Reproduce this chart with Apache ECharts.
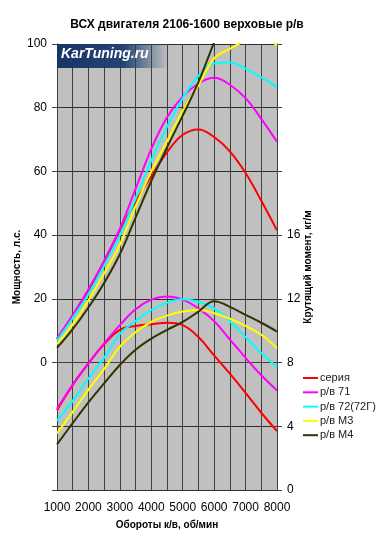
<!DOCTYPE html>
<html>
<head>
<meta charset="utf-8">
<script src="https://cdn.jsdelivr.net/npm/echarts@6/dist/echarts.min.js"></script>
<style>
html,body{margin:0;padding:0;background:#fff;}
#chart{width:380px;height:552px;}
</style>
</head>
<body>
<div id="chart"></div>
<script>
// ---- data ----
const rpm = [1000,1500,2000,2500,3000,3500,4000,4500,5000,5500,6000,6500,7000,7500,8000];
const seriesNames = ['серия','р/в 71','р/в 72(72Г)','р/в М3','р/в М4'];
// power, hp (left axis)
const powerSeria = [7.3,14.5,22.5,31.5,41.5,50.5,58.5,66,71.5,73.2,70.8,66.3,59.5,50.8,41.5];
const powerRv71  = [7.5,15,23,32,42,54.5,67,77,83.5,87.6,89.4,87.2,83,76.5,69.3];
const powerRv72  = [6.9,14,21.5,30.5,40,51.5,63.5,74,83,90,93.9,94.2,92.3,89.5,86.4];
const powerRvM3  = [5.9,12,19.5,28,37,49,60,69.5,79,87,95.5,98.5,101,102,99.5];
const powerRvM4  = [4.6,10.5,17.3,25,34,45.5,57,67.5,77.5,88,100.5,112,120,126,130];
// torque, kgm (right axis)
const torqueSeria = [5.0,6.6,7.95,9.15,10.05,10.3,10.4,10.5,10.35,9.6,8.45,7.3,6.1,4.85,3.7];
const torqueRv71  = [5.1,6.6,7.95,9.2,10.35,11.35,11.95,12.15,11.95,11.4,10.6,9.45,8.3,7.2,6.25];
const torqueRv72  = [4.35,5.6,7.0,8.3,9.8,10.6,11.3,11.75,11.97,11.8,11.4,10.6,9.6,8.6,7.73];
const torqueRvM3  = [3.55,4.9,6.3,7.6,9.0,9.9,10.55,10.95,11.2,11.3,11.1,10.75,10.3,9.75,8.9];
const torqueRvM4  = [2.87,4.2,5.5,6.7,7.85,8.8,9.5,10.05,10.55,11.2,11.85,11.5,11.0,10.5,9.95];

const colors = ['#ff0000','#ff00ff','#00ffff','#ffff00','#333300'];
const powerSets = [powerSeria,powerRv71,powerRv72,powerRvM3,powerRvM4];
const torqueSets = [torqueSeria,torqueRv71,torqueRv72,torqueRvM3,torqueRvM4];

const FONT = '"Liberation Sans", Arial, sans-serif';
const pair = (xs, ys) => xs.map((x, i) => [x, ys[i]]);

const series = [];
seriesNames.forEach((n, i) => {
  series.push({name:n, type:'line', yAxisIndex:0, data:pair(rpm, powerSets[i]),
    smooth:0.4, showSymbol:false, symbol:'none', lineStyle:{color:colors[i], width:2}, itemStyle:{color:colors[i]}, z:3});
});
seriesNames.forEach((n, i) => {
  series.push({name:n, type:'line', yAxisIndex:1, data:pair(rpm, torqueSets[i]),
    smooth:0.4, showSymbol:false, symbol:'none', lineStyle:{color:colors[i], width:2}, itemStyle:{color:colors[i]}, z:3});
});

const chart = echarts.init(document.getElementById('chart'), null, {renderer:'canvas'});
chart.setOption({
  animation:false,
  backgroundColor:'#ffffff',
  textStyle:{fontFamily:FONT},
  title:{
    text:'ВСХ двигателя 2106-1600 верховые р/в',
    left:187, top:19, textAlign:'center', padding:0,
    textStyle:{fontFamily:FONT, fontSize:12, fontWeight:'bold', color:'#000'}
  },
  grid:{left:57, right:103, top:44, bottom:62, show:true, backgroundColor:'#c0c0c0', borderWidth:0},
  legend:{
    data:seriesNames, orient:'vertical', left:298, top:367,
    icon:'rect', itemWidth:15, itemHeight:2, itemGap:2.3,
    textStyle:{fontFamily:FONT, fontSize:11, color:'#222', lineHeight:12, padding:[0,0,0,-3]}
  },
  graphic:[
    {type:'rect', left:57, top:44, z:1, shape:{width:112, height:24},
     style:{fill:new echarts.graphic.LinearGradient(0,0,1,0,[
       {offset:0,color:'rgba(22,52,100,1)'},{offset:0.6,color:'rgba(30,62,112,0.95)'},{offset:1,color:'rgba(40,70,120,0)'}])}},
    {type:'text', left:61, top:47, z:2,
     style:{text:'KarTuning.ru', fill:'#ffffff', font:'italic bold 14px "Liberation Sans", Arial, sans-serif'}}
  ],
  xAxis:{
    type:'value', min:1000, max:8000, interval:500,
    name:'Обороты к/в, об/мин', nameLocation:'middle', nameGap:30, nameMoveOverlap:false,
    nameTextStyle:{fontFamily:FONT, fontSize:10, fontWeight:'bold', color:'#000'},
    axisLine:{show:true, lineStyle:{color:'#404040', width:1}},
    axisTick:{show:false},
    axisLabel:{margin:12, fontFamily:FONT, fontSize:12, color:'#000',
      formatter:v => (v % 1000 === 0 ? String(v) : '')},
    splitLine:{show:true, lineStyle:{color:'#404040', width:1}}
  },
  yAxis:[
    {type:'value', min:-40, max:100, interval:20, position:'left',
     name:'Мощность, л.с.', nameLocation:'middle', nameGap:35, nameRotate:90, nameMoveOverlap:false,
     nameTextStyle:{fontFamily:FONT, fontSize:10, fontWeight:'bold', color:'#000'},
     axisLine:{show:true, lineStyle:{color:'#404040', width:1}},
     axisTick:{show:true, length:5, lineStyle:{color:'#404040'}},
     axisLabel:{margin:10, fontFamily:FONT, fontSize:12, color:'#000',
       formatter:v => (v >= 0 ? String(v) : '')},
     splitLine:{show:true, lineStyle:{color:'#303030', width:1}}},
    {type:'value', min:0, max:28, interval:4, position:'right',
     name:'Крутящий момент, кг/м', nameLocation:'middle', nameGap:26, nameRotate:90, nameMoveOverlap:false,
     nameTextStyle:{fontFamily:FONT, fontSize:10, fontWeight:'bold', color:'#000'},
     axisLine:{show:true, lineStyle:{color:'#404040', width:1}},
     axisTick:{show:true, length:5, lineStyle:{color:'#404040'}},
     axisLabel:{margin:10, fontFamily:FONT, fontSize:12, color:'#000',
       formatter:v => (v <= 16 ? String(v) : '')},
     splitLine:{show:false}}
  ],
  series:series
});
</script>
</body>
</html>
